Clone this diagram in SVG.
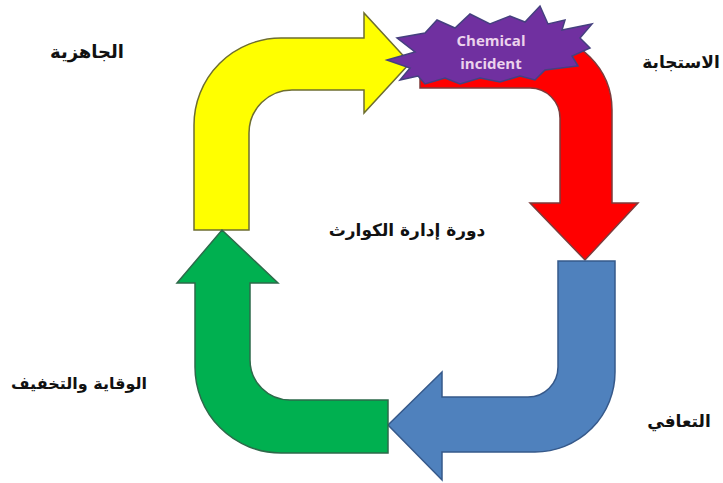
<svg xmlns="http://www.w3.org/2000/svg" width="723" height="483" viewBox="0 0 723 483">
<style>
.lbl{font-family:"DejaVu Sans",sans-serif;font-weight:bold;font-size:17px;fill:#111;text-anchor:middle}
.star{font-family:"Open Sans","DejaVu Sans",sans-serif;font-weight:bold;font-size:15px;fill:#ecd3ec;text-anchor:middle}
.arr{stroke-width:1.5;stroke-linejoin:miter}
</style>
<rect width="723" height="483" fill="#ffffff"/>
<g id="connectors">
<path id="red" class="arr" d="M420,35 L537,35 A75,75 0 0 1 612,110 L612,203 L638,203 L585,260 L530,203 L560,203 L560,118 A30,30 0 0 0 530,88 L420,88 Z" fill="#ff0000" stroke="#7d3b3b"/>
<path id="yellow" class="arr" d="M194,230 L194,125 A87,87 0 0 1 281,38 L364,38 L364,13 L410,63 L364,113 L364,90 L292,90 A43,43 0 0 0 249,133 L249,230 Z" fill="#ffff00" stroke="#6e6e30"/>
<path id="blue" class="arr" d="M558,261 L615,261 L615,372 A80,80 0 0 1 535,452 L442,452 L442,480 L388,425 L442,372 L442,397 L528,397 A30,30 0 0 0 558,367 Z" fill="#4f81bd" stroke="#36598a"/>
<path id="green" class="arr" d="M388,400 L290,400 A40,40 0 0 1 250,360 L250,283 L278,283 L222,230 L177,283 L195,283 L195,367 A86,86 0 0 0 281,453 L388,453 Z" fill="#00b050" stroke="#2d6a4a"/>
</g>
<g id="incident">
<polygon points="387,60 415,52 397,38 425,33 437,20 455,28 470,14 490,24 510,16 525,22 540,6 548,24 565,20 562,30 592,24 580,38 590,48 572,56 578,66 545,70 535,80 520,76 500,82 480,78 460,84 445,78 425,84 418,76 400,80 410,68" fill="#7030a0" stroke="#45407f" stroke-width="1.5"/>
<text class="star" x="491" y="46">Chemical</text>
<text class="star" x="491" y="69">incident</text>
</g>
<g id="preparedness"><text class="lbl" x="87" y="58" style="font-size:18px">الجاهزية</text></g>
<g id="response"><text class="lbl" x="681" y="68">الاستجابة</text></g>
<g id="title"><text class="lbl" x="407" y="236">دورة إدارة الكوارث</text></g>
<g id="mitigation"><text class="lbl" x="79" y="389" style="font-size:16px">الوقاية والتخفيف</text></g>
<g id="recovery"><text class="lbl" x="679" y="427">التعافي</text></g>
</svg>
